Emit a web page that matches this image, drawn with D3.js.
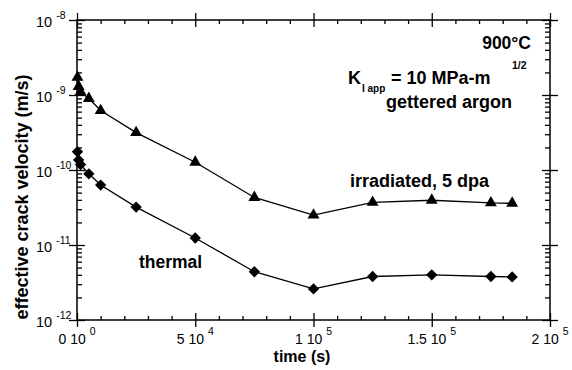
<!DOCTYPE html>
<html>
<head>
<meta charset="utf-8">
<script src="https://cdn.jsdelivr.net/npm/d3@7"></script>
<style>
  body { margin: 0; background: #fff; }
  svg { font-family: "Liberation Sans", Arial, sans-serif; }
</style>
</head>
<body>
<svg id="chart" width="572" height="370"></svg>
<script>
// time (s) of each measurement
const times = [200, 700, 1500, 5000, 10000, 25000, 50000, 75000, 100000, 125000, 150000, 175000, 184000];
// effective crack velocity (m/s)
const irradiated = [1.72e-9, 1.3e-9, 1.1e-9, 9.0e-10, 6.2e-10, 3.15e-10, 1.27e-10, 4.3e-11, 2.5e-11, 3.7e-11, 3.95e-11, 3.65e-11, 3.6e-11];
const thermal = [1.75e-10, 1.36e-10, 1.18e-10, 8.9e-11, 6.3e-11, 3.2e-11, 1.24e-11, 4.4e-12, 2.6e-12, 3.8e-12, 4.0e-12, 3.8e-12, 3.75e-12];

const xTicks = [0, 50000, 100000, 150000, 200000];
const xTickBase = ['0 10', '5 10', '1 10', '1.5 10', '2 10'];
const xTickExp = ['0', '4', '5', '5', '5'];
const yTicks = [1e-12, 1e-11, 1e-10, 1e-9, 1e-8];
const yTickExp = ['-12', '-11', '-10', '-9', '-8'];

const margin = { top: 20, right: 22, bottom: 50, left: 77 };
const W = 572, H = 370;
const width = W - margin.left - margin.right;
const height = H - margin.top - margin.bottom;

const svg = d3.select('#chart');
const g = svg.append('g').attr('transform', 'translate(' + margin.left + ',' + margin.top + ')');

const x = d3.scaleLinear().domain([0, 200000]).range([0, width]);
const y = d3.scaleLog().domain([1e-12, 1e-8]).range([height, 0]);

const xMinor = d3.range(0, 200001, 10000).filter(function (v) { return v % 50000 !== 0; });
const yMinor = [];
for (let e = -12; e < -8; e++) {
  for (let k = 2; k <= 9; k++) yMinor.push(k * Math.pow(10, e));
}

function styleAxis(sel) {
  sel.select('.domain').remove();
  sel.selectAll('line').attr('stroke', '#000').attr('stroke-width', 1.3);
  sel.selectAll('text').remove();
}

// bottom and top axes
g.append('g').attr('transform', 'translate(0,' + height + ')')
  .call(d3.axisBottom(x).tickValues(xTicks).tickSize(7)).call(styleAxis)
  .selectAll('line').attr('y1', -7);
g.append('g').attr('transform', 'translate(0,' + height + ')')
  .call(d3.axisBottom(x).tickValues(xMinor).tickSize(-4)).call(styleAxis);
g.append('g')
  .call(d3.axisTop(x).tickValues(xTicks).tickSize(7)).call(styleAxis)
  .selectAll('line').attr('y1', 7);
g.append('g')
  .call(d3.axisTop(x).tickValues(xMinor).tickSize(-4)).call(styleAxis);

// left and right axes
g.append('g')
  .call(d3.axisLeft(y).tickValues(yTicks).tickSize(8)).call(styleAxis)
  .selectAll('line').attr('x1', 8);
g.append('g')
  .call(d3.axisLeft(y).tickValues(yMinor).tickSize(-5)).call(styleAxis);
g.append('g').attr('transform', 'translate(' + width + ',0)')
  .call(d3.axisRight(y).tickValues(yTicks).tickSize(8)).call(styleAxis)
  .selectAll('line').attr('x1', -8);
g.append('g').attr('transform', 'translate(' + width + ',0)')
  .call(d3.axisRight(y).tickValues(yMinor).tickSize(-5)).call(styleAxis);

// frame
g.append('rect').attr('width', width).attr('height', height)
  .attr('fill', 'none').attr('stroke', '#000').attr('stroke-width', 1.5);

// x tick labels
xTicks.forEach(function (v, i) {
  const t = g.append('text')
    .attr('x', x(v)).attr('y', height + 24)
    .attr('text-anchor', 'middle')
    .attr('font-size', 14).attr('fill', '#000');
  t.append('tspan').text(xTickBase[i] + ' ');
  t.append('tspan').attr('dy', -9).attr('font-size', 10.5).text(xTickExp[i]);
});

// y tick labels
yTicks.forEach(function (v, i) {
  const t = g.append('text')
    .attr('x', 36 - margin.left).attr('y', y(v) + 7)
    .attr('font-size', 14.5).attr('fill', '#000');
  t.append('tspan').text('10 ');
  t.append('tspan').attr('dy', -8).attr('font-size', 10.5).text(yTickExp[i]);
});

// series
const line = d3.line()
  .x(function (d) { return x(d[0]); })
  .y(function (d) { return y(d[1]); });

const irrPts = times.map(function (t, i) { return [t, irradiated[i]]; });
const thPts = times.map(function (t, i) { return [t, thermal[i]]; });

[irrPts, thPts].forEach(function (pts) {
  g.append('path').datum(pts)
    .attr('d', line)
    .attr('fill', 'none').attr('stroke', '#000').attr('stroke-width', 1.3);
});

g.selectAll('.tri').data(irrPts).enter().append('path')
  .attr('class', 'tri')
  .attr('transform', function (d) { return 'translate(' + x(d[0]) + ',' + y(d[1]) + ')'; })
  .attr('d', d3.symbol().type(d3.symbolTriangle).size(62))
  .attr('fill', '#000');

g.selectAll('.dia').data(thPts).enter().append('path')
  .attr('class', 'dia')
  .attr('transform', function (d) { return 'translate(' + x(d[0]) + ',' + y(d[1]) + ') rotate(45)'; })
  .attr('d', d3.symbol().type(d3.symbolSquare).size(64))
  .attr('fill', '#000');

// annotations
function label(px, py, txt, size) {
  return svg.append('text').attr('x', px).attr('y', py)
    .attr('font-size', size).attr('font-weight', 'bold').attr('fill', '#000').text(txt);
}
label(531, 49, '900°C', 17.5).attr('text-anchor', 'end');
label(348, 84, 'K', 18);
svg.append('text').attr('x', 362).attr('y', 92).attr('font-size', 10)
  .attr('font-weight', 'bold').text('I app');
label(391, 84, '= 10 MPa-m', 18);
svg.append('text').attr('x', 512).attr('y', 69).attr('font-size', 10.5)
  .attr('font-weight', 'bold').text('1/2');
label(386, 108, 'gettered argon', 18);
label(350, 187, 'irradiated, 5 dpa', 18);
label(139, 268, 'thermal', 17.5);

// axis titles
svg.append('text')
  .attr('transform', 'translate(28,197) rotate(-90)')
  .attr('text-anchor', 'middle')
  .attr('font-size', 18).attr('font-weight', 'bold')
  .text('effective crack velocity (m/s)');
svg.append('text')
  .attr('x', 302).attr('y', 362)
  .attr('text-anchor', 'middle')
  .attr('font-size', 16).attr('font-weight', 'bold')
  .text('time (s)');
</script>
</body>
</html>
